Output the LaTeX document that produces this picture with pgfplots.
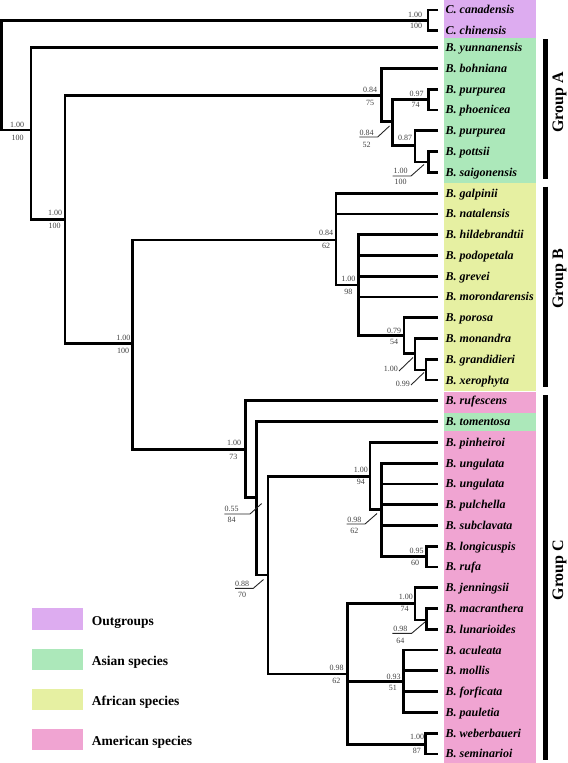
\documentclass[border=0pt]{standalone}
\usepackage{fontspec}
\setmainfont{Liberation Serif}
\usepackage{pgfplots}
\pgfplotsset{compat=1.18}
\definecolor{og}{RGB}{221,172,240}
\definecolor{as}{RGB}{172,232,186}
\definecolor{af}{RGB}{230,240,162}
\definecolor{am}{RGB}{240,164,210}
\tikzset{
  br/.style={line width=2.8bp,black,line join=miter,mark=none},
  ld/.style={line width=0.9bp,black!85,mark=none},
  sp/.style={font=\fontsize{12bp}{14bp}\selectfont\bfseries\itshape,anchor=base west,inner sep=0pt},
  sv/.style={font=\fontsize{8bp}{9bp}\selectfont,text=black!75,inner sep=0pt,anchor=center},
  gl/.style={font=\fontsize{16bp}{18bp}\selectfont\bfseries,rotate=90,inner sep=0pt,anchor=center},
  lg/.style={font=\fontsize{13.5bp}{15bp}\selectfont\bfseries,anchor=base west,inner sep=0pt},
  box/.style={draw=none,mark=none}}
\begin{document}
\begin{tikzpicture}
\begin{axis}[width=568bp,height=763bp,scale only axis,xmin=0,xmax=568,ymin=0,ymax=763,
  y dir=reverse,hide axis,clip=false]
% coloured boxes
\addplot[box,fill=og] coordinates {(444,0) (536,0) (536,38.3) (444,38.3)};
\addplot[box,fill=as] coordinates {(444,38.3) (536,38.3) (536,183) (444,183)};
\addplot[box,fill=af] coordinates {(444,183) (536,183) (536,390.5) (444,390.5)};
\addplot[box,fill=am] coordinates {(444,391.7) (536,391.7) (536,412.5) (444,412.5)};
\addplot[box,fill=as] coordinates {(444,413.3) (536,413.3) (536,430.5) (444,430.5)};
\addplot[box,fill=am] coordinates {(444,430.5) (536,430.5) (536,763) (444,763)};
% legend boxes
\addplot[box,fill=og] coordinates {(31.7,608.3) (83.3,608.3) (83.3,630) (31.7,630)};
\addplot[box,fill=as] coordinates {(31.7,649.3) (83.3,649.3) (83.3,670) (31.7,670)};
\addplot[box,fill=af] coordinates {(31.7,689) (83.3,689) (83.3,710) (31.7,710)};
\addplot[box,fill=am] coordinates {(31.7,729.3) (83.3,729.3) (83.3,750) (31.7,750)};
% group bars
\addplot[line width=5.5bp,black,mark=none] coordinates {(545.6,39.3) (545.6,179)};
\addplot[line width=5.5bp,black,mark=none] coordinates {(545.6,186.7) (545.6,387.3)};
\addplot[line width=5.5bp,black,mark=none] coordinates {(545.6,395) (545.6,760)};
% tree
\addplot[br] coordinates {(428,20.4) (1.7,20.4) (1.7,130) (31,130)};
\addplot[br] coordinates {(438,10) (428,10) (428,30.7) (438,30.7)};
\addplot[br] coordinates {(438,47.7) (31,47.7) (31,219.3) (65,219.3)};
\addplot[br] coordinates {(381.3,95.7) (65,95.7) (65,343.3) (132.7,343.3)};
\addplot[br] coordinates {(438,68.5) (381.3,68.5) (381.3,121.7) (392.7,121.7)};
\addplot[br] coordinates {(428.3,99.6) (392.7,99.6) (392.7,145.7) (415,145.7)};
\addplot[br] coordinates {(438,89.2) (428.3,89.2) (428.3,110) (438,110)};
\addplot[br] coordinates {(438,130.8) (415,130.8) (415,162) (428.3,162)};
\addplot[br] coordinates {(438,151.6) (428.3,151.6) (428.3,172.3) (438,172.3)};
\addplot[br] coordinates {(336,240) (132.7,240) (132.7,449.3) (245.7,449.3)};
\addplot[br] coordinates {(438,193.1) (336,193.1) (336,285) (358.3,285)};
\addplot[br] coordinates {(336,213.9) (438,213.9)};
\addplot[br] coordinates {(438,234.6) (358.3,234.6) (358.3,335.7) (404,335.7)};
\addplot[br] coordinates {(358.3,255.4) (438,255.4)};
\addplot[br] coordinates {(358.3,276.2) (438,276.2)};
\addplot[br] coordinates {(358.3,296.9) (438,296.9)};
\addplot[br] coordinates {(438,317.7) (404,317.7) (404,353.3) (415,353.3)};
\addplot[br] coordinates {(438,338.5) (415,338.5) (415,370) (426,370)};
\addplot[br] coordinates {(438,359.2) (426,359.2) (426,380) (438,380)};
\addplot[br] coordinates {(438,400.8) (245.7,400.8) (245.7,497.3) (256.7,497.3)};
\addplot[br] coordinates {(438,421.6) (256.7,421.6) (256.7,575) (268,575)};
\addplot[br] coordinates {(370,476.7) (268,476.7) (268,674) (347.5,674)};
\addplot[br] coordinates {(438,442.3) (370,442.3) (370,509.3) (381.7,509.3)};
\addplot[br] coordinates {(438,463.1) (381.7,463.1) (381.7,556.6) (426.7,556.6)};
\addplot[br] coordinates {(381.7,483.9) (438,483.9)};
\addplot[br] coordinates {(381.7,504.6) (438,504.6)};
\addplot[br] coordinates {(381.7,525.4) (438,525.4)};
\addplot[br] coordinates {(438,546.2) (426.7,546.2) (426.7,566.9) (438,566.9)};
\addplot[br] coordinates {(415,603.3) (347.5,603.3) (347.5,744.3) (425.7,744.3)};
\addplot[br] coordinates {(347.5,681.7) (403.5,681.7)};
\addplot[br] coordinates {(438,587.7) (415,587.7) (415,620) (426.5,620)};
\addplot[br] coordinates {(438,608.5) (426.5,608.5) (426.5,629.2) (438,629.2)};
\addplot[br] coordinates {(438,650) (403.5,650) (403.5,712.3) (438,712.3)};
\addplot[br] coordinates {(403.5,670.8) (438,670.8)};
\addplot[br] coordinates {(403.5,691.6) (438,691.6)};
\addplot[br] coordinates {(438,733.1) (425.7,733.1) (425.7,753.9) (438,753.9)};
% leader lines
\addplot[ld] coordinates {(359.3,137) (377.7,137) (389.5,126)};
\addplot[ld] coordinates {(392.7,176) (411,176) (424,164.5)};
\addplot[ld] coordinates {(399,371) (413,357.5)};
\addplot[ld] coordinates {(411,385) (424,372.5)};
\addplot[ld] coordinates {(224.3,514) (250,514) (261.7,503.5)};
\addplot[ld] coordinates {(235,588.3) (253.3,588.3) (263.5,579.5)};
\addplot[ld] coordinates {(346.7,524) (365,524) (377,513.5)};
\addplot[ld] coordinates {(392.3,633.3) (411.7,633.3) (425,622)};
% support values
\node[sv] at (axis cs:17,125) {1.00};
\node[sv] at (axis cs:17.5,138) {100};
\node[sv] at (axis cs:55,213.3) {1.00};
\node[sv] at (axis cs:54.5,226) {100};
\node[sv] at (axis cs:123.3,338.3) {1.00};
\node[sv] at (axis cs:123,351) {100};
\node[sv] at (axis cs:415,15) {1.00};
\node[sv] at (axis cs:416,25.5) {100};
\node[sv] at (axis cs:370,90) {0.84};
\node[sv] at (axis cs:370,102.7) {75};
\node[sv] at (axis cs:366.7,132.5) {0.84};
\node[sv] at (axis cs:366.7,145) {52};
\node[sv] at (axis cs:416.5,94) {0.97};
\node[sv] at (axis cs:415.5,105) {74};
\node[sv] at (axis cs:405,138.3) {0.87};
\node[sv] at (axis cs:400.5,171) {1.00};
\node[sv] at (axis cs:400.5,181.7) {100};
\node[sv] at (axis cs:326,233.3) {0.84};
\node[sv] at (axis cs:326,245.7) {62};
\node[sv] at (axis cs:348.3,279) {1.00};
\node[sv] at (axis cs:348.3,292.3) {98};
\node[sv] at (axis cs:394,331) {0.79};
\node[sv] at (axis cs:394,341.7) {54};
\node[sv] at (axis cs:390.8,369) {1.00};
\node[sv] at (axis cs:402.8,384) {0.99};
\node[sv] at (axis cs:234,443.3) {1.00};
\node[sv] at (axis cs:233.3,456.7) {73};
\node[sv] at (axis cs:231.7,509.3) {0.55};
\node[sv] at (axis cs:231.7,519.5) {84};
\node[sv] at (axis cs:242,584) {0.88};
\node[sv] at (axis cs:242,595) {70};
\node[sv] at (axis cs:360.8,470) {1.00};
\node[sv] at (axis cs:360.8,482.3) {94};
\node[sv] at (axis cs:354.3,519.5) {0.98};
\node[sv] at (axis cs:354.3,530.7) {62};
\node[sv] at (axis cs:416.5,551) {0.95};
\node[sv] at (axis cs:415,563.3) {60};
\node[sv] at (axis cs:336.7,667.7) {0.98};
\node[sv] at (axis cs:336.3,680.7) {62};
\node[sv] at (axis cs:405.8,597.3) {1.00};
\node[sv] at (axis cs:404.5,609.3) {74};
\node[sv] at (axis cs:400.3,629) {0.98};
\node[sv] at (axis cs:400.3,640.7) {64};
\node[sv] at (axis cs:393.7,676.7) {0.93};
\node[sv] at (axis cs:392.8,688.3) {51};
\node[sv] at (axis cs:417,736.7) {1.00};
\node[sv] at (axis cs:416.8,750.7) {87};
% species names
\node[sp] at (axis cs:445.5,14) {C. canadensis};
\node[sp] at (axis cs:445.5,34.7) {C. chinensis};
\node[sp] at (axis cs:445.5,51.7) {B. yunnanensis};
\node[sp] at (axis cs:445.5,72.5) {B. bohniana};
\node[sp] at (axis cs:445.5,93.2) {B. purpurea};
\node[sp] at (axis cs:445.5,114.0) {B. phoenicea};
\node[sp] at (axis cs:445.5,134.8) {B. purpurea};
\node[sp] at (axis cs:445.5,155.6) {B. pottsii};
\node[sp] at (axis cs:445.5,176.3) {B. saigonensis};
\node[sp] at (axis cs:445.5,197.1) {B. galpinii};
\node[sp] at (axis cs:445.5,217.9) {B. natalensis};
\node[sp] at (axis cs:445.5,238.6) {B. hildebrandtii};
\node[sp] at (axis cs:445.5,259.4) {B. podopetala};
\node[sp] at (axis cs:445.5,280.2) {B. grevei};
\node[sp] at (axis cs:445.5,300.9) {B. morondarensis};
\node[sp] at (axis cs:445.5,321.7) {B. porosa};
\node[sp] at (axis cs:445.5,342.5) {B. monandra};
\node[sp] at (axis cs:445.5,363.2) {B. grandidieri};
\node[sp] at (axis cs:445.5,384.0) {B. xerophyta};
\node[sp] at (axis cs:445.5,404.8) {B. rufescens};
\node[sp] at (axis cs:445.5,425.6) {B. tomentosa};
\node[sp] at (axis cs:445.5,446.3) {B. pinheiroi};
\node[sp] at (axis cs:445.5,467.1) {B. ungulata};
\node[sp] at (axis cs:445.5,487.9) {B. ungulata};
\node[sp] at (axis cs:445.5,508.6) {B. pulchella};
\node[sp] at (axis cs:445.5,529.4) {B. subclavata};
\node[sp] at (axis cs:445.5,550.2) {B. longicuspis};
\node[sp] at (axis cs:445.5,570.9) {B. rufa};
\node[sp] at (axis cs:445.5,591.7) {B. jenningsii};
\node[sp] at (axis cs:445.5,612.5) {B. macranthera};
\node[sp] at (axis cs:445.5,633.2) {B. lunarioides};
\node[sp] at (axis cs:445.5,654.0) {B. aculeata};
\node[sp] at (axis cs:445.5,674.8) {B. mollis};
\node[sp] at (axis cs:445.5,695.6) {B. forficata};
\node[sp] at (axis cs:445.5,716.3) {B. pauletia};
\node[sp] at (axis cs:445.5,737.1) {B. weberbaueri};
\node[sp] at (axis cs:445.5,757.9) {B. seminarioi};
% group labels
\node[gl] at (axis cs:559.5,102.5) {Group A};
\node[gl] at (axis cs:559.5,279) {Group B};
\node[gl] at (axis cs:559.5,570) {Group C};
% legend text
\node[lg] at (axis cs:91.7,625) {Outgroups};
\node[lg] at (axis cs:91.7,665) {Asian species};
\node[lg] at (axis cs:91.7,705) {African species};
\node[lg] at (axis cs:91.7,745) {American species};
\end{axis}
\pgfresetboundingbox
\useasboundingbox (current axis.south west) rectangle (current axis.north east);
\end{tikzpicture}
\end{document}
